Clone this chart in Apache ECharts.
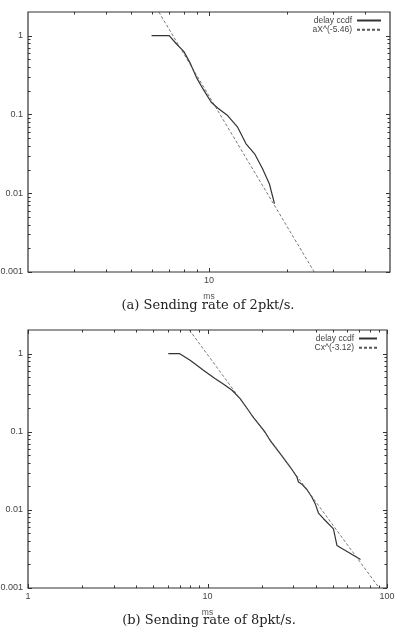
<!DOCTYPE html>
<html>
<head>
<meta charset="utf-8">
<script src="https://cdn.jsdelivr.net/npm/echarts@6/dist/echarts.min.js"></script>
<style>
  html, body { margin: 0; padding: 0; background: #fff; }
  #chart { width: 395px; height: 632px; }
</style>
</head>
<body>
<div id="chart"></div>
<script>
// (a) sending rate 2pkt/s
const ccdfA_x = [6.0, 7.02, 7.49, 7.99, 8.43, 8.94, 9.48, 10.2, 10.8, 11.8, 12.9, 13.9, 15.0, 16.1, 17.1, 17.9];
const ccdfA_y = [1, 1, 0.785, 0.632, 0.459, 0.296, 0.211, 0.143, 0.121, 0.0968, 0.0689, 0.0424, 0.0317, 0.0205, 0.0132, 0.00737];
const fitA_x = [6.4, 25.5];
const fitA_y = [2, 0.001];

// (b) sending rate 8pkt/s
const ccdfB_x = [6.05, 6.97, 8.0, 9.49, 11.0, 12.3, 13.7, 15.2, 16.9, 18.0, 19.2, 20.9, 22.3, 25.4, 28.9, 31.5, 32.1, 33.6, 35.8, 38.1, 39.8, 41.5, 44.3, 50.3, 52.6, 71.2];
const ccdfB_y = [1, 1, 0.821, 0.611, 0.479, 0.404, 0.339, 0.265, 0.188, 0.152, 0.127, 0.0992, 0.0776, 0.0524, 0.0353, 0.0263, 0.0227, 0.0212, 0.0182, 0.0146, 0.012, 0.0091, 0.0077, 0.0057, 0.0035, 0.00232];
const fitB_x = [7.93, 90.5];
const fitB_y = [2, 0.001];

// axis ticks (gnuplot style: majors at decades, minors in between)
const yMajor = [0.001, 0.01, 0.1, 1];
const yMinor = [0.002, 0.003, 0.004, 0.005, 0.006, 0.007, 0.008, 0.009, 0.02, 0.03, 0.04, 0.05, 0.06, 0.07, 0.08, 0.09, 0.2, 0.3, 0.4, 0.5, 0.6, 0.7, 0.8, 0.9];
const xMajorA = [10];
const xMinorA = [3, 4, 5, 6, 7, 8, 9, 20, 30, 40];
const xMajorB = [1, 10, 100];
const xMinorB = [2, 3, 4, 5, 6, 7, 8, 9, 20, 30, 40, 50, 60, 70, 80, 90];

const zip = (xs, ys) => xs.map((x, i) => [x, ys[i]]);

const fmt = function(v) {
  const l = Math.log10(v);
  if (Math.abs(l - Math.round(l)) > 1e-6) return "";
  return String(Number(v.toPrecision(6)));
};

const font = "Liberation Sans";
const ink = "#333";

function xAxis(grid, min, max) {
  return {
    gridIndex: grid, type: "log", logBase: 10, min: min, max: max,
    name: "ms", nameLocation: "middle", nameGap: 20,
    nameTextStyle: {fontSize: 8.5, color: "#555", fontFamily: font},
    axisLine: {show: false}, axisTick: {show: false}, splitLine: {show: false},
    axisLabel: {fontSize: 9, color: "#444", fontFamily: font, margin: 4, formatter: fmt},
  };
}

function yAxis(grid) {
  return {
    gridIndex: grid, type: "log", logBase: 10, min: 0.001, max: 2,
    axisLine: {show: false}, axisTick: {show: false}, splitLine: {show: false},
    axisLabel: {fontSize: 9, color: "#444", fontFamily: font, margin: 5, formatter: fmt},
  };
}

function legend(names, top, right, w) {
  return {
    data: names, orient: "vertical", top: top, right: right, align: "right",
    itemWidth: w, itemHeight: 7, itemGap: 0.3, padding: 0, selectedMode: false,
    itemStyle: {opacity: 0},
    textStyle: {fontSize: 8.5, color: "#444", fontFamily: font, lineHeight: 7},
  };
}

const solid = {color: ink, width: 1.2, type: "solid"};
const dashed = {color: "#555", width: 0.8, type: [3, 2]};

const myChart = echarts.init(document.getElementById("chart"), null, {renderer: "canvas"});

const option = {
  backgroundColor: "#fff",
  animation: false,
  grid: [
    {left: 28, top: 12, width: 362, height: 260, show: true, borderColor: ink, borderWidth: 1.2, outerBoundsMode: "none"},
    {left: 28, top: 330, width: 359, height: 258, show: true, borderColor: ink, borderWidth: 1.2, outerBoundsMode: "none"},
  ],
  xAxis: [xAxis(0, 2, 50), xAxis(1, 1, 100)],
  yAxis: [yAxis(0), yAxis(1)],
  legend: [
    legend(["delay ccdf", "aX^(-5.46)"], 16, 13, 24),
    legend(["delay ccdf", "Cx^(-3.12)"], 334, 17, 18),
  ],
  series: [
    {name: "delay ccdf", type: "line", xAxisIndex: 0, yAxisIndex: 0, symbol: "none", lineStyle: solid, itemStyle: {color: ink}, data: zip(ccdfA_x, ccdfA_y)},
    {name: "aX^(-5.46)", type: "line", xAxisIndex: 0, yAxisIndex: 0, symbol: "none", lineStyle: dashed, itemStyle: {color: "#555"}, data: zip(fitA_x, fitA_y)},
    {name: "delay ccdf", type: "line", xAxisIndex: 1, yAxisIndex: 1, symbol: "none", lineStyle: solid, itemStyle: {color: ink}, data: zip(ccdfB_x, ccdfB_y)},
    {name: "Cx^(-3.12)", type: "line", xAxisIndex: 1, yAxisIndex: 1, symbol: "none", lineStyle: dashed, itemStyle: {color: "#555"}, data: zip(fitB_x, fitB_y)},
  ],
};

myChart.setOption(option);

// draw inward ticks on all four sides of each panel
function ticks(grid, xMajor, xMinor) {
  const els = [];
  const rect = myChart.getModel().getComponent("grid", grid).coordinateSystem.getRect();
  const x0 = rect.x, x1 = rect.x + rect.width, y0 = rect.y, y1 = rect.y + rect.height;
  const add = (a, b, c, d) => els.push({
    type: "line", silent: true,
    shape: {x1: a, y1: b, x2: c, y2: d},
    style: {stroke: ink, lineWidth: 1},
  });
  const xt = (vals, len) => vals.forEach(v => {
    const px = Math.round(myChart.convertToPixel({xAxisIndex: grid}, v)) + 0.5;
    add(px, y1, px, y1 - len);
    add(px, y0, px, y0 + len);
  });
  const yt = (vals, len) => vals.forEach(v => {
    const py = Math.round(myChart.convertToPixel({yAxisIndex: grid}, v)) + 0.5;
    add(x0, py, x0 + len, py);
    add(x1, py, x1 - len, py);
  });
  xt(xMajor, 4); xt(xMinor, 2.5);
  yt(yMajor, 4); yt(yMinor, 2.5);
  return els;
}

const caption = (text, x, y) => ({
  type: "text", x: x, y: y, silent: true,
  style: {text: text, font: "13px 'DejaVu Serif'", fill: "#222", textAlign: "center", textVerticalAlign: "middle"},
});

myChart.setOption({
  graphic: [
    ...ticks(0, xMajorA, xMinorA),
    ...ticks(1, xMajorB, xMinorB),
    caption("(a) Sending rate of 2pkt/s.", 208, 306),
    caption("(b) Sending rate of 8pkt/s.", 209, 621),
  ],
});
</script>
</body>
</html>
